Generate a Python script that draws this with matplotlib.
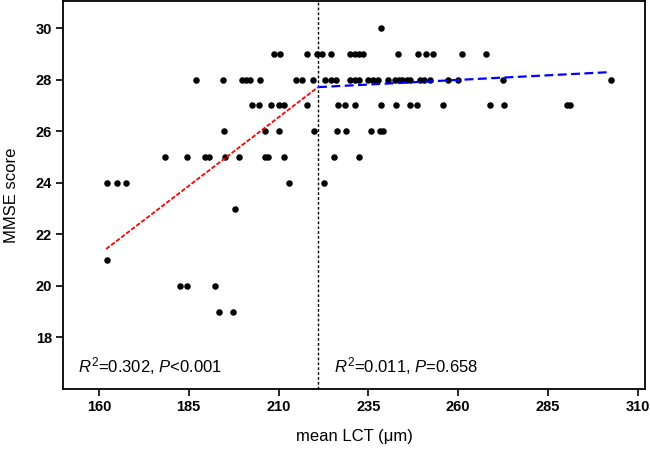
import matplotlib
matplotlib.use("Agg")
import matplotlib.pyplot as plt
import numpy as np

plt.rcParams['font.family'] = ['Liberation Sans', 'DejaVu Sans']
plt.rcParams['mathtext.fontset'] = 'custom'
plt.rcParams['mathtext.rm'] = 'Liberation Sans'
plt.rcParams['mathtext.it'] = 'Liberation Sans:italic'

# MMSE score rows -> mean LCT values (µm)
row30 = [238.6]
row29 = [208.8, 210.4, 217.9, 220.8, 222.0, 224.6, 230.0, 231.2, 232.4, 233.5,
         243.2, 248.8, 251.1, 253.1, 261.2, 267.8]
row28 = [186.9, 194.6, 199.8, 200.9, 202.0, 204.9, 214.9, 216.5, 219.6, 222.8,
         224.7, 226.1, 230.0, 231.2, 232.4, 234.9, 236.3, 237.6, 240.4, 242.3,
         243.5, 244.4, 245.7, 246.6, 249.4, 250.6, 252.2, 257.3, 260.0, 272.5, 302.4]
row27 = [202.6, 204.6, 207.9, 210.0, 211.6, 217.9, 226.5, 228.6, 231.3, 238.6,
         242.8, 246.5, 248.5, 255.9, 268.9, 272.8, 290.2, 291.0]
row26 = [194.9, 206.3, 210.0, 219.9, 226.2, 228.9, 235.8, 238.1, 239.0]
row25 = [178.3, 184.6, 189.6, 190.6, 195.2, 198.9, 206.3, 207.1, 211.6, 225.5, 232.5]
row24 = [162.3, 165.0, 167.6, 212.9, 222.6]
row23 = [197.9]
row21 = [162.3]
row20 = [182.6, 184.6, 192.2]
row19 = [193.3, 197.3]

rows = {30: row30, 29: row29, 28: row28, 27: row27, 26: row26, 25: row25,
        24: row24, 23: row23, 21: row21, 20: row20, 19: row19}

# fitted segments
breakpoint_lct = 221.0
left_fit_x = [162.0, 221.0]
left_fit_y = [21.43, 27.71]
right_fit_x = [221.0, 302.0]
right_fit_y = [27.71, 28.29]

left_text = r'$R^2$=0.302, $P$<0.001'
right_text = r'$R^2$=0.011, $P$=0.658'

xticks = [160, 185, 210, 235, 260, 285, 310]
yticks = [18, 20, 22, 24, 26, 28, 30]

xs = []
ys = []
for score, vals in rows.items():
    xs.extend(vals)
    ys.extend([score] * len(vals))

fig = plt.figure(figsize=(6.5, 4.49), dpi=100)
ax = fig.add_axes([63/650, 60/449, 582/650, 388/449])

ax.scatter(xs, ys, s=22, color='black', zorder=3, linewidths=0)
ax.axvline(breakpoint_lct, color='black', lw=1.0, ls=(0, (2, 1.5)), zorder=2)
ax.plot(left_fit_x, left_fit_y, color='red', lw=1.3, ls=(0, (2.5, 1)), zorder=4)
ax.plot(right_fit_x, right_fit_y, color='blue', lw=1.6, ls=(0, (4, 2)), zorder=4)

ax.set_xlim(150, 312)
ax.set_ylim(16, 31.05)
ax.set_xticks(xticks)
ax.set_yticks(yticks)
ax.tick_params(axis='both', direction='out', length=5, width=1.2, labelsize=10.5, pad=3)
for lab in ax.get_xticklabels() + ax.get_yticklabels():
    lab.set_fontweight('bold')
for sp in ax.spines.values():
    sp.set_linewidth(1.3)

ax.set_xlabel('mean LCT (\u03bcm)', fontsize=12, labelpad=11)
ax.set_ylabel('MMSE score', fontsize=12, labelpad=12)

ax.text(154.2, 16.9, left_text, fontsize=12, va='center', ha='left')
ax.text(225.5, 16.9, right_text, fontsize=12, va='center', ha='left')

fig.savefig('out.png', dpi=100)
